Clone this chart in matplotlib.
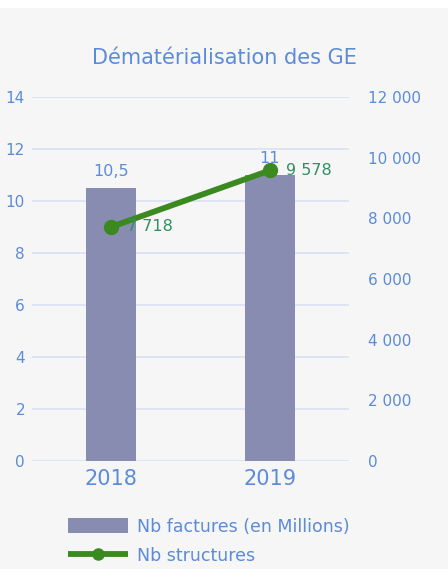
import matplotlib
matplotlib.use("Agg")
import matplotlib.pyplot as plt
from matplotlib.lines import Line2D
from matplotlib.patches import Patch, Rectangle
import numpy as np

years = ["2018", "2019"]
factures = [10.5, 11]
structures = [7718, 9578]
left_ticks = [0, 2, 4, 6, 8, 10, 12, 14]
right_ticks = [0, 2000, 4000, 6000, 8000, 10000, 12000]

BG = "#f6f6f6"
BLUE = "#5b8bd9"
BAR = "#878cb0"
LINE = "#3b8a1f"
LBL = "#2f9063"
GRID = "#dbe4f4"

plt.rcParams["font.family"] = ["DejaVu Sans"]

fig = plt.figure(figsize=(4.48, 5.69), dpi=100, facecolor=BG)
fig.patches.append(Rectangle((0, 1 - 8 / 569), 1, 8 / 569, transform=fig.transFigure,
                             facecolor="white", edgecolor="none", zorder=0))
ax = fig.add_axes([32 / 448, 1 - 461 / 569, 317 / 448, 364 / 569])
ax.set_facecolor(BG)
ax2 = ax.twinx()

x = np.arange(len(years))
ax.bar(x, factures, width=0.315, color=BAR, zorder=2)
ax.set_xlim(-0.5, 1.5)
ax.set_ylim(0, 14)
ax.set_yticks(left_ticks)
ax.set_yticklabels([str(t) for t in left_ticks])
ax.set_xticks(x)
ax.set_xticklabels(years, fontsize=15, color=BLUE)
for t in left_ticks:
    ax.axhline(t, color=GRID, lw=1.3, zorder=1)
for i, v in enumerate(factures):
    ax.text(x[i], v + 0.35, f"{v:g}".replace(".", ","), ha="center", va="bottom",
            fontsize=11.5, color=BLUE, zorder=5)

# ligne sur l'axe de droite (0 - 12 000 aligné sur 0 - 14)
ax2.plot(x, structures, color=LINE, lw=4.2, marker="o", markersize=10, zorder=4)
ax2.set_ylim(0, 12000)
ax2.set_yticks(right_ticks)
ax2.set_yticklabels([f"{t:,}".replace(",", " ") for t in right_ticks])
for i, v in enumerate(structures):
    ax2.text(x[i] + 0.1, v, f"{v:,}".replace(",", " "), ha="left", va="center",
             fontsize=11.5, color=LBL, zorder=5)

for a in (ax, ax2):
    for s in a.spines.values():
        s.set_visible(False)
    a.tick_params(length=0, labelsize=11, colors=BLUE)
ax.tick_params(axis="y", pad=5)
ax2.tick_params(axis="y", pad=14)
ax.tick_params(axis="x", pad=6, labelsize=15)

fig.text(224 / 448, 1 - 58 / 569, "Dématérialisation des GE", ha="center", va="center",
         fontsize=15, color=BLUE)

handles = [Patch(facecolor=BAR, edgecolor="none"),
           Line2D([0], [0], color=LINE, lw=4.2, marker="o", markersize=8,
                  solid_capstyle="butt")]
fig.legend(handles, ["Nb factures (en Millions)", "Nb structures"],
           loc="upper left", bbox_to_anchor=(52 / 448, 1 - 502 / 569), frameon=False,
           fontsize=12.5, labelcolor=BLUE, handlelength=3.5, handleheight=0.9,
           handletextpad=0.5, labelspacing=0.66)

fig.savefig("out.png", dpi=100, facecolor=BG)
